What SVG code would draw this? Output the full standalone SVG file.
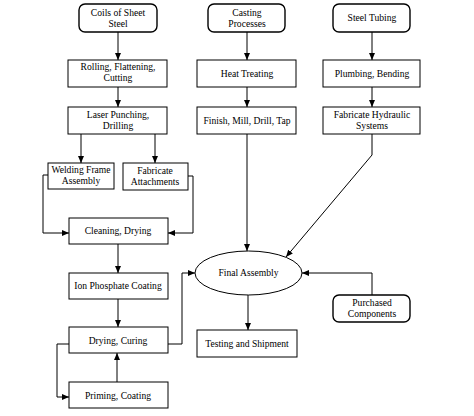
<svg xmlns="http://www.w3.org/2000/svg" width="474" height="416" viewBox="0 0 474 416" font-family="'Liberation Serif', 'Times New Roman', serif">
<defs>
<marker id="ah" markerWidth="8" markerHeight="8" refX="7" refY="4" orient="auto" markerUnits="userSpaceOnUse">
<path d="M0,1 L7,4 L0,7 Z" fill="#000"/>
</marker>
<style>
.b{fill:#fff;stroke:#000;stroke-width:1}
.s{fill:#fff;stroke:#000;stroke-width:1.4}
text{font-family:'Liberation Serif','Times New Roman',serif;font-size:9.6px;fill:#000;text-anchor:middle}
.c{fill:none;stroke:#000;stroke-width:1}
</style>
</defs>
<rect width="474" height="416" fill="#fff"/>
<g id="connectors">
<line class="c" x1="118" y1="32" x2="118" y2="60" marker-end="url(#ah)"/>
<line class="c" x1="118" y1="87" x2="118" y2="107" marker-end="url(#ah)"/>
<line class="c" x1="81" y1="134" x2="81" y2="163" marker-end="url(#ah)"/>
<line class="c" x1="155" y1="134" x2="155" y2="163" marker-end="url(#ah)"/>
<polyline class="c" points="48,175 43,175 43,233 69,233" marker-end="url(#ah)"/>
<polyline class="c" points="188,176 193,176 193,233 168,233" marker-end="url(#ah)"/>
<line class="c" x1="118" y1="244" x2="118" y2="273" marker-end="url(#ah)"/>
<line class="c" x1="118" y1="299" x2="118" y2="327" marker-end="url(#ah)"/>
<line class="c" x1="117" y1="382" x2="117" y2="353" marker-end="url(#ah)"/>
<polyline class="c" points="69,344 57,344 57,397 69,397" marker-end="url(#ah)"/>
<polyline class="c" points="168,344 182,344 182,273 195,273" marker-end="url(#ah)"/>
<line class="c" x1="247" y1="32" x2="247" y2="60" marker-end="url(#ah)"/>
<line class="c" x1="247" y1="87" x2="247" y2="107" marker-end="url(#ah)"/>
<line class="c" x1="247" y1="134" x2="247" y2="251" marker-end="url(#ah)"/>
<line class="c" x1="372" y1="32" x2="372" y2="60" marker-end="url(#ah)"/>
<line class="c" x1="372" y1="87" x2="372" y2="107" marker-end="url(#ah)"/>
<polyline class="c" points="372,134 372,155 286,257" marker-end="url(#ah)"/>
<polyline class="c" points="372,295 372,273 302,273" marker-end="url(#ah)"/>
<line class="c" x1="248" y1="295" x2="248" y2="330" marker-end="url(#ah)"/>
</g>
<g id="coils"><rect class="s" x="79" y="4" width="78" height="28" rx="6"/><text x="118" y="16">Coils of Sheet</text><text x="118" y="27">Steel</text></g>
<g id="casting"><rect class="s" x="208" y="4" width="77" height="28" rx="6"/><text x="247" y="16">Casting</text><text x="247" y="27">Processes</text></g>
<g id="tubing"><rect class="s" x="333" y="4" width="77" height="28" rx="6"/><text x="372" y="21">Steel Tubing</text></g>
<g id="rolling"><rect class="b" x="68" y="60" width="99" height="27"/><text x="118" y="70">Rolling, Flattening,</text><text x="118" y="81">Cutting</text></g>
<g id="laser"><rect class="b" x="68" y="107" width="99" height="27"/><text x="118" y="118">Laser Punching,</text><text x="118" y="129">Drilling</text></g>
<g id="heat"><rect class="b" x="197" y="60" width="99" height="27"/><text x="247" y="77">Heat Treating</text></g>
<g id="finish"><rect class="b" x="197" y="107" width="99" height="27"/><text x="247" y="124">Finish, Mill, Drill, Tap</text></g>
<g id="plumbing"><rect class="b" x="323" y="60" width="97" height="27"/><text x="372" y="77">Plumbing, Bending</text></g>
<g id="hydraulic"><rect class="b" x="323" y="107" width="97" height="27"/><text x="372" y="118">Fabricate Hydraulic</text><text x="372" y="129">Systems</text></g>
<g id="welding"><rect class="b" x="48" y="163" width="66" height="26"/><text x="81" y="173">Welding Frame</text><text x="81" y="184">Assembly</text></g>
<g id="attach"><rect class="b" x="123" y="163" width="65" height="27"/><text x="155" y="174">Fabricate</text><text x="155" y="185">Attachments</text></g>
<g id="cleaning"><rect class="b" x="69" y="218" width="99" height="26"/><text x="118" y="234">Cleaning, Drying</text></g>
<g id="ion"><rect class="b" x="69" y="273" width="99" height="26"/><text x="118" y="289">Ion Phosphate Coating</text></g>
<g id="drying"><rect class="b" x="69" y="327" width="99" height="26"/><text x="118" y="344">Drying, Curing</text></g>
<g id="priming"><rect class="b" x="69" y="382" width="99" height="26"/><text x="118" y="399">Priming, Coating</text></g>
<g id="final"><ellipse class="b" cx="248.5" cy="273" rx="53.5" ry="22"/><text x="248.5" y="276">Final Assembly</text></g>
<g id="purchased"><rect class="s" x="333" y="295" width="77" height="27" rx="6"/><text x="372" y="306">Purchased</text><text x="372" y="317">Components</text></g>
<g id="testing"><rect class="b" x="197" y="330" width="100" height="27"/><text x="247" y="347">Testing and Shipment</text></g>
</svg>
